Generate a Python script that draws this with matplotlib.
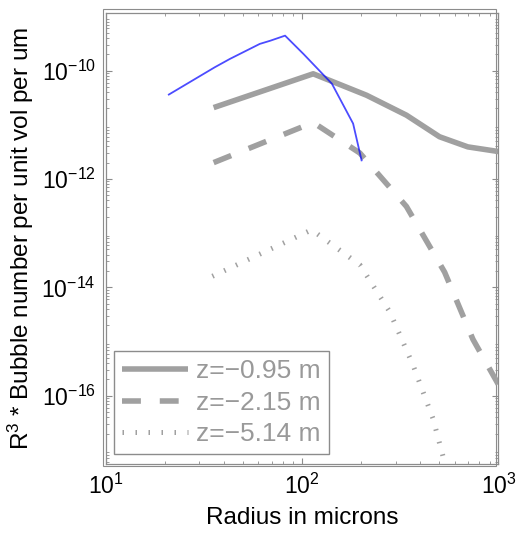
import matplotlib as mpl
import matplotlib.pyplot as plt
from matplotlib.patches import Rectangle

# data (radius in microns, R^3 * number density)
r_blue = [21, 36, 43, 61, 69, 82, 102, 142, 182, 201]
n_blue = [3.6e-11, 1.15e-10, 1.64e-10, 3.1e-10, 3.55e-10, 4.4e-10, 2.0e-10, 5.7e-11, 1.05e-11, 2.2e-12]

r_z1 = [35.5, 114, 213, 340, 501, 698, 1000]
n_z1 = [2.07e-11, 8.7e-11, 3.5e-11, 1.5e-11, 6.0e-12, 3.9e-12, 3.2e-12]

r_z2 = [35.5, 114, 197, 340, 532, 741, 1000]
n_z2 = [2.0e-12, 1.1e-11, 3.0e-12, 3.1e-13, 1.9e-14, 1.1e-15, 1.6e-16]

r_z3 = [35, 112, 197, 280, 367, 464, 522, 600]
n_z3 = [1.6e-14, 1.15e-13, 2.6e-14, 3.5e-15, 3.7e-16, 3.8e-17, 7.6e-18, 1.0e-18]

labels = ['z=\u22120.95 m', 'z=\u22122.15 m', 'z=\u22125.14 m']

mpl.rcParams.update({'font.family': 'Liberation Sans',
                     'mathtext.fontset': 'custom',
                     'mathtext.rm': 'Liberation Sans',
                     'mathtext.it': 'Liberation Sans:italic',
                     'font.size': 16})

gray = '#a0a0a0'
edge = '#8c8c8c'

fig = plt.figure(figsize=(5.19, 5.36), dpi=100)
ax = fig.add_axes([0.2033, 0.1343, 0.7572, 0.8414])

ax.plot(r_z1, n_z1, color=gray, lw=4, solid_capstyle='butt', label=labels[0])
ax.plot(r_z2, n_z2, color=gray, lw=4, dashes=(3.4, 3.4), label=labels[1])
ax.plot(r_z3, n_z3, color=gray, lw=3.6, dashes=(0.3, 2.3), label=labels[2])
ax.plot(r_blue, n_blue, color='blue', lw=1.3, alpha=0.7)

ax.set_xscale('log')
ax.set_yscale('log')
ax.set_xlim(10, 1000)
ax.set_ylim(5.5e-18, 1.15e-9)
ax.set_yticks([1e-16, 1e-14, 1e-12, 1e-10])

ax.tick_params(which='both', direction='in', top=True, right=True, color=edge)
ax.tick_params(which='major', length=4, width=0.8, pad=7, labelsize=16.5)
ax.tick_params(which='minor', length=2, width=0.6)
for s in ax.spines.values():
    s.set_color(edge)
    s.set_linewidth(0.9)

# second box line like the original export
ax.add_patch(Rectangle((-0.006, -0.004), 1.0, 1.012, transform=ax.transAxes,
                       fill=False, ec=edge, lw=0.8, clip_on=False))

ax.set_xlabel('Radius in microns', fontsize=17.5, labelpad=6)
ax.set_ylabel('R$^3$ * Bubble number per unit vol per um', fontsize=17.5, labelpad=4)

leg = ax.legend(loc='lower left', bbox_to_anchor=(0.022, 0.022), borderaxespad=0,
                fontsize=19, handlelength=2.5, fancybox=False, framealpha=1,
                edgecolor=edge, labelspacing=0.28, borderpad=0.3, handletextpad=0.3)
leg.get_frame().set_linewidth(1.0)
for t in leg.get_texts():
    t.set_color('#999999')

fig.savefig('out.png', dpi=100)
